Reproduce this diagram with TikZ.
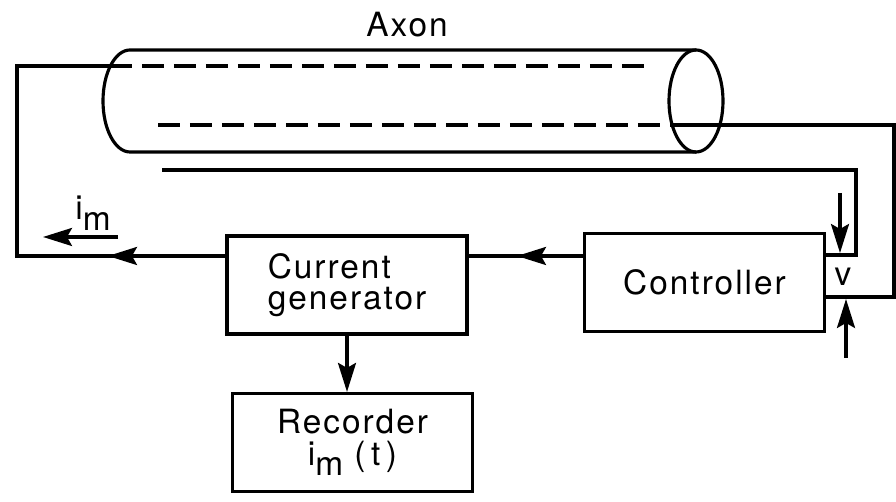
\documentclass[tikz,border=0pt]{standalone}
\usepackage{fontspec}
\setmainfont{TeX Gyre Heros}[LetterSpace=6]
\usetikzlibrary{arrows.meta}

\tikzset{
	wire/.style={line width=1.8pt},
	block/.style={draw, wire, minimum width=4.8cm, minimum height=1.96cm, inner sep=0pt},
	arr/.style={wire, -{Stealth[length=0.58cm, width=0.36cm, inset=0.1cm]}},
	electrode/.style={wire, dash pattern=on 0.44cm off 0.2cm},
}
\newcommand{\lowm}{\raisebox{-6pt}{m}}

\begin{document}
\begin{tikzpicture}[x=0.02cm, y=0.02cm, font=\fontsize{19}{18}\selectfont]
	\useasboundingbox (0,0) rectangle (896,502);

	% axon as a tube, open at the left
	\node (axon) at (407,477) {Axon};
	\draw[wire] (696,452) -- (130,452) arc[start angle=90, end angle=270, x radius=27, y radius=51] -- (696,350);
	\draw[wire] (696,401) ellipse[x radius=27, y radius=51];
	\draw[electrode] (110,436) -- (652,436);
	\draw[electrode] (158,377) -- (672,377);

	% blocks
	\node[block] (ctrl) at (704.5,219.5) {Controller};
	\node[block, align=left] (gen) at (347,217) {Current\\generator};
	\node[block, align=center] (rec) at (352.5,59.5) {Recorder\\i\lowm\ (\,t\,)};

	% corners of the wires
	\coordinate (lw) at (17,246);
	\coordinate (lt) at (17,436);
	\coordinate (le) at (110,436);
	\coordinate (ltip) at (108,246);
	\coordinate (ct) at (517,246);
	\coordinate (oe) at (162,332);
	\coordinate (oc) at (856,332);
	\coordinate (ob) at (856,247);
	\coordinate (ie) at (672,377);
	\coordinate (ic) at (894,377);
	\coordinate (ib) at (894,205);

	% current loop
	\draw[wire] (gen.west |- lw) -- (lw) -- (lt) -- (le);
	\draw[arr] (gen.west |- lw) -- (ltip);
	\draw[wire] (ctrl.west |- ct) -- (gen.east |- ct);
	\draw[arr] (ctrl.west |- ct) -- (ct);
	\draw[arr] (gen.south) -- (gen.south |- rec.north);

	% voltage electrodes
	\draw[wire] (oe) -- (oc) -- (ob) -- (ctrl.east |- ob);
	\draw[wire] (ie) -- (ic) -- (ib) -- (ctrl.east |- ib);

	% v across the electrodes
	\node (v) at (843,225) {v};
	\coordinate (va) at (840,309);
	\coordinate (vb) at (846,144);
	\draw[arr] (va) -- (840,249);
	\draw[arr] (vb) -- (846,203);

	% membrane current
	\node (im) at (93,289) {i\lowm};
	\coordinate (ia) at (118,265);
	\coordinate (ib2) at (43,265);
	\draw[arr] (ia) -- (ib2);
\end{tikzpicture}
\end{document}
